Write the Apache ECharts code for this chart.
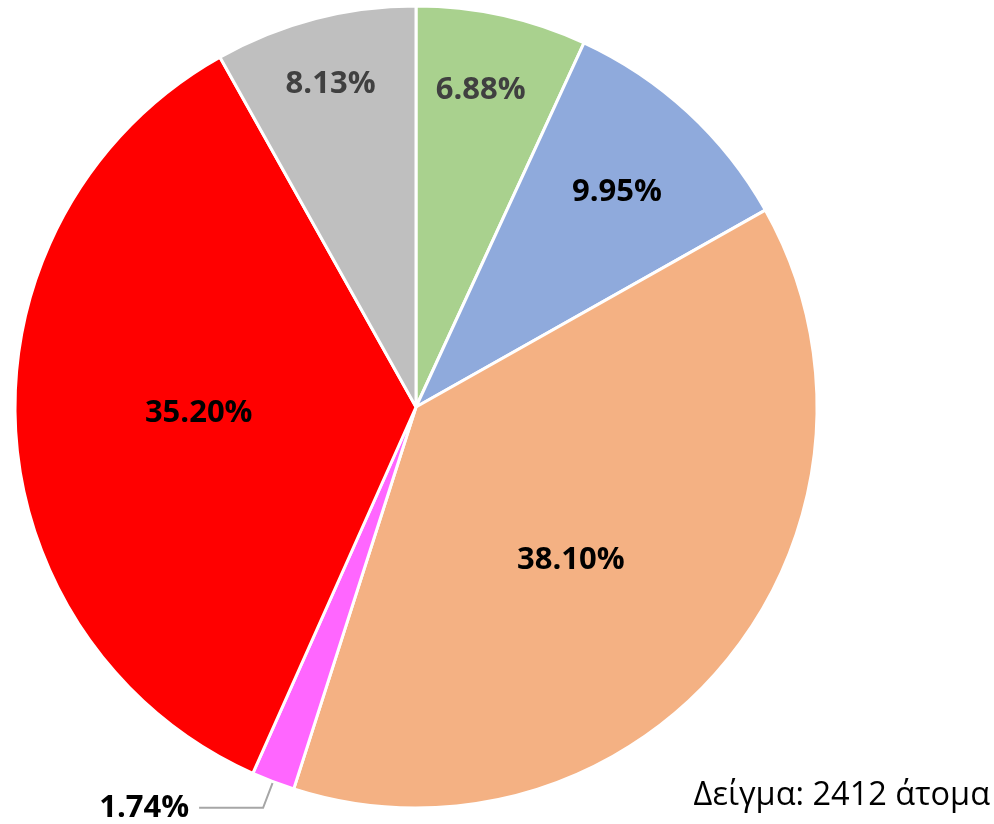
<!DOCTYPE html>
<html>
<head>
<meta charset="utf-8">
<script src="https://cdn.jsdelivr.net/npm/echarts@6/dist/echarts.min.js"></script>
<style>
  html, body { margin: 0; padding: 0; background: #fff; }
  #chart { width: 994px; height: 824px; }
</style>
</head>
<body>
<div id="chart"></div>
<script>
// slices, clockwise from 12 o'clock
const categories = ['A', 'B', 'C', 'D', 'E', 'F'];
const values = [6.88, 9.95, 38.10, 1.74, 35.20, 8.13];
const colors = ['#A9D18E', '#8FAADC', '#F4B183', '#FF66FF', '#FF0000', '#BFBFBF'];
const labelColors = ['#404040', '#000000', '#000000', '#000000', '#000000', '#404040'];
// nudges of the inside labels away from mid-radius
const labelShift = [[21, -118], [63, -65], [-3, 25], [0, 0], [-14, -3], [-34, -126]];
const sampleNote = 'Δείγμα: 2412 άτομα';

let chart;

const getOption = () => {
  return {
    animation: false,
    textStyle: { fontFamily: 'Open Sans' },
    graphic: [{
      type: 'text',
      right: 4,
      top: 779,
      style: {
        text: sampleNote,
        font: '32.5px "Open Sans"',
        fill: '#000'
      }
    }],
    series: [{
      type: 'pie',
      center: [416, 407],
      radius: [0, 401],
      startAngle: 90,
      clockwise: true,
      avoidLabelOverlap: false,
      itemStyle: { borderColor: '#fff', borderWidth: 3 },
      label: {
        position: 'inside',
        fontSize: 31,
        fontWeight: 'bold',
        fontFamily: 'Open Sans',
        formatter: p => p.value.toFixed(2) + '%'
      },
      labelLayout: p => {
        const s = labelShift[p.dataIndex];
        return { dx: s[0], dy: s[1] };
      },
      data: categories.map((c, i) => {
        const item = {
          name: c,
          value: values[i],
          itemStyle: { color: colors[i] },
          label: { color: labelColors[i] }
        };
        if (i === 3) {
          item.label = { position: 'outside', color: '#000', fontSize: 31, fontWeight: 'bold', distanceToLabelLine: 10 };
          item.labelLine = { show: true, length: 28, length2: 64, lineStyle: { color: '#A6A6A6', width: 2 } };
        }
        return item;
      })
    }]
  };
};

chart = echarts.init(document.getElementById('chart'));
chart.setOption(getOption());

window.addEventListener('resize', function () {
  chart.resize();
});
</script>
</body>
</html>
